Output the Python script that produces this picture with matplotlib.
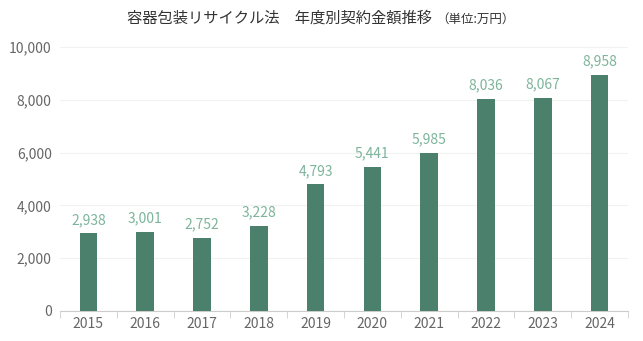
import matplotlib.pyplot as plt

plt.rcParams['font.family'] = ['Noto Sans CJK JP', 'DejaVu Sans']

years = ['2015', '2016', '2017', '2018', '2019', '2020', '2021', '2022', '2023', '2024']
amounts = [2938, 3001, 2752, 3228, 4793, 5441, 5985, 8036, 8067, 8958]

bar_color = '#4b806c'
label_color = '#7db49b'

fig = plt.figure(figsize=(6.43, 3.41), dpi=100)
ax = fig.add_axes([0.0933, 0.088, 0.8834, 0.774])

x = list(range(len(years)))
ax.bar(x, amounts, width=0.31, color=bar_color, zorder=3)
for xi, v in zip(x, amounts):
    ax.text(xi, v + 250, f'{v:,}', ha='center', va='bottom', fontsize=10, color=label_color)

ax.set_xlim(-0.5, len(years) - 0.5)
ax.set_ylim(0, 10000)
ax.set_yticks(range(0, 10001, 2000))
ax.set_yticklabels([f'{t:,}' for t in range(0, 10001, 2000)], fontsize=10, color='#666666')
ax.set_xticks(x)
ax.set_xticklabels(years, fontsize=10, color='#666666')
ax.set_xticks([i - 0.5 for i in range(len(years) + 1)], minor=True)
ax.tick_params(axis='x', which='major', length=0, pad=4)
ax.tick_params(axis='x', which='minor', length=5, color='#cccccc')
ax.tick_params(axis='y', length=0, pad=6)

ax.grid(axis='y', color='#eef3f1', linewidth=0.8, zorder=0)
for s in ['top', 'right', 'left']:
    ax.spines[s].set_visible(False)
ax.spines['bottom'].set_color('#cccccc')

fig.text(0.672, 0.946, '容器包装リサイクル法　年度別契約金額推移', ha='right', va='center',
         fontsize=11, color='#333333')
fig.text(0.678, 0.944, '（単位:万円）', ha='left', va='center', fontsize=9, color='#333333')

fig.savefig('out.png', dpi=100)
